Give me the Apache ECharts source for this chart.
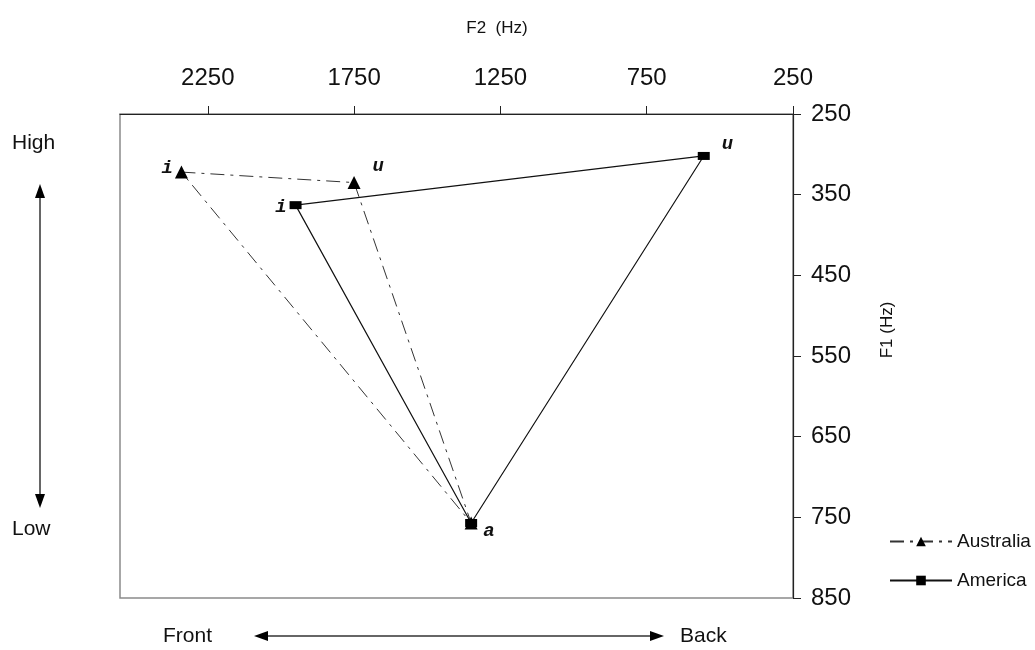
<!DOCTYPE html>
<html>
<head>
<meta charset="utf-8">
<script src="https://cdn.jsdelivr.net/npm/echarts@6/dist/echarts.min.js"></script>
<style>
html,body{margin:0;padding:0;background:#fff;}
#chart{width:1035px;height:650px;}
</style>
</head>
<body>
<div id="chart"></div>
<script>
// Data (Hz)
const vowels = ['i', 'u', 'a'];
const australiaF2 = [2340, 1750, 1350];
const australiaF1 = [322, 335, 757];
const americaF2 = [1950, 555, 1350];
const americaF1 = [363, 302, 757];
const f2Ticks = [2250, 1750, 1250, 750, 250];
const f1Ticks = [250, 350, 450, 550, 650, 750, 850];

const labelFont = {
  fontFamily: 'Liberation Mono', fontWeight: 'bold', fontStyle: 'italic',
  fontSize: 19, color: '#111'
};
const ausLabel = {
  i: { position: 'left', distance: 2, offset: [0, -4] },
  u: { position: 'right', distance: 12, offset: [0, -16] },
  a: null
};
const amLabel = {
  i: { position: 'left', distance: 3, offset: [0, 2] },
  u: { position: 'right', distance: 12, offset: [0, -12] },
  a: { position: 'right', distance: 6, offset: [0, 8] }
};

function buildData(f2, f1, labels) {
  const pts = vowels.map((v, k) => {
    const lab = labels[v];
    const item = { value: [f2[k], f1[k]], name: v };
    if (lab) {
      item.label = Object.assign({ show: true, formatter: v }, labelFont, lab);
    }
    return item;
  });
  pts.push({ value: [f2[0], f1[0]], name: vowels[0], symbolSize: 0 });
  return pts;
}

const chart = echarts.init(document.getElementById('chart'), null, { renderer: 'canvas' });
const tickFont = { fontFamily: 'Liberation Sans', fontSize: 24, color: '#111' };
const option = {
  backgroundColor: '#fff',
  animation: false,
  grid: {
    left: 120, right: 242, top: 114, bottom: 52,
    show: true, borderColor: '#8a8a8a', borderWidth: 1.5, backgroundColor: 'transparent'
  },
  xAxis: {
    type: 'value', position: 'top', inverse: true,
    min: 250, max: 2550,
    axisLine: { show: true, lineStyle: { color: '#222', width: 1.2 } },
    axisTick: { show: true, length: 8, inside: false, customValues: f2Ticks, lineStyle: { color: '#222' } },
    axisLabel: Object.assign({ customValues: f2Ticks, margin: 24, formatter: v => String(v) }, tickFont),
    splitLine: { show: false }
  },
  yAxis: {
    type: 'value', position: 'right', inverse: true,
    min: 250, max: 850, interval: 100,
    axisLine: { show: true, lineStyle: { color: '#222', width: 1.2 } },
    axisTick: { show: true, length: 8, inside: false, lineStyle: { color: '#222' } },
    axisLabel: Object.assign({ customValues: f1Ticks, margin: 18, formatter: v => String(v) }, tickFont),
    splitLine: { show: false }
  },
  legend: {
    orient: 'vertical', left: 884, top: 527, itemGap: 20,
    itemWidth: 62, itemHeight: 12,
    textStyle: { fontFamily: 'Liberation Sans', fontSize: 19, color: '#111' },
    data: ['Australia', 'America']
  },
  series: [
    {
      name: 'Australia', type: 'line',
      data: buildData(australiaF2, australiaF1, ausLabel),
      symbol: 'triangle', symbolSize: 13,
      itemStyle: { color: '#000' },
      lineStyle: { color: '#333', width: 1, type: [14, 6, 3, 6] },
      z: 3
    },
    {
      name: 'America', type: 'line',
      data: buildData(americaF2, americaF1, amLabel),
      symbol: 'rect', symbolSize: [12, 8],
      itemStyle: { color: '#000' },
      lineStyle: { color: '#111', width: 1.2, type: 'solid' },
      z: 4
    }
  ],
  graphic: [
    { type: 'text', x: 497, y: 28, style: { text: 'F2  (Hz)', fontFamily: 'Liberation Sans', fontSize: 17, fill: '#111', align: 'center', verticalAlign: 'middle' } },
    { type: 'text', x: 887, y: 330, rotation: Math.PI / 2, style: { text: 'F1 (Hz)', fontFamily: 'Liberation Sans', fontSize: 17, fill: '#111', align: 'center', verticalAlign: 'middle' } },
    { type: 'text', left: 12, top: 133, style: { text: 'High', fontFamily: 'Liberation Sans', fontSize: 21, fill: '#111' } },
    { type: 'text', left: 12, top: 519, style: { text: 'Low', fontFamily: 'Liberation Sans', fontSize: 21, fill: '#111' } },
    { type: 'text', left: 163, top: 626, style: { text: 'Front', fontFamily: 'Liberation Sans', fontSize: 21, fill: '#111' } },
    { type: 'text', left: 680, top: 626, style: { text: 'Back', fontFamily: 'Liberation Sans', fontSize: 21, fill: '#111' } },
    { type: 'line', shape: { x1: 40, y1: 192, x2: 40, y2: 500 }, style: { stroke: '#666', lineWidth: 2 } },
    { type: 'polygon', shape: { points: [[40, 184], [35, 198], [45, 198]] }, style: { fill: '#000' } },
    { type: 'polygon', shape: { points: [[40, 508], [35, 494], [45, 494]] }, style: { fill: '#000' } },
    { type: 'line', shape: { x1: 262, y1: 636, x2: 656, y2: 636 }, style: { stroke: '#666', lineWidth: 2 } },
    { type: 'polygon', shape: { points: [[254, 636], [268, 631], [268, 641]] }, style: { fill: '#000' } },
    { type: 'polygon', shape: { points: [[664, 636], [650, 631], [650, 641]] }, style: { fill: '#000' } }
  ]
};
chart.setOption(option);
</script>
</body>
</html>
